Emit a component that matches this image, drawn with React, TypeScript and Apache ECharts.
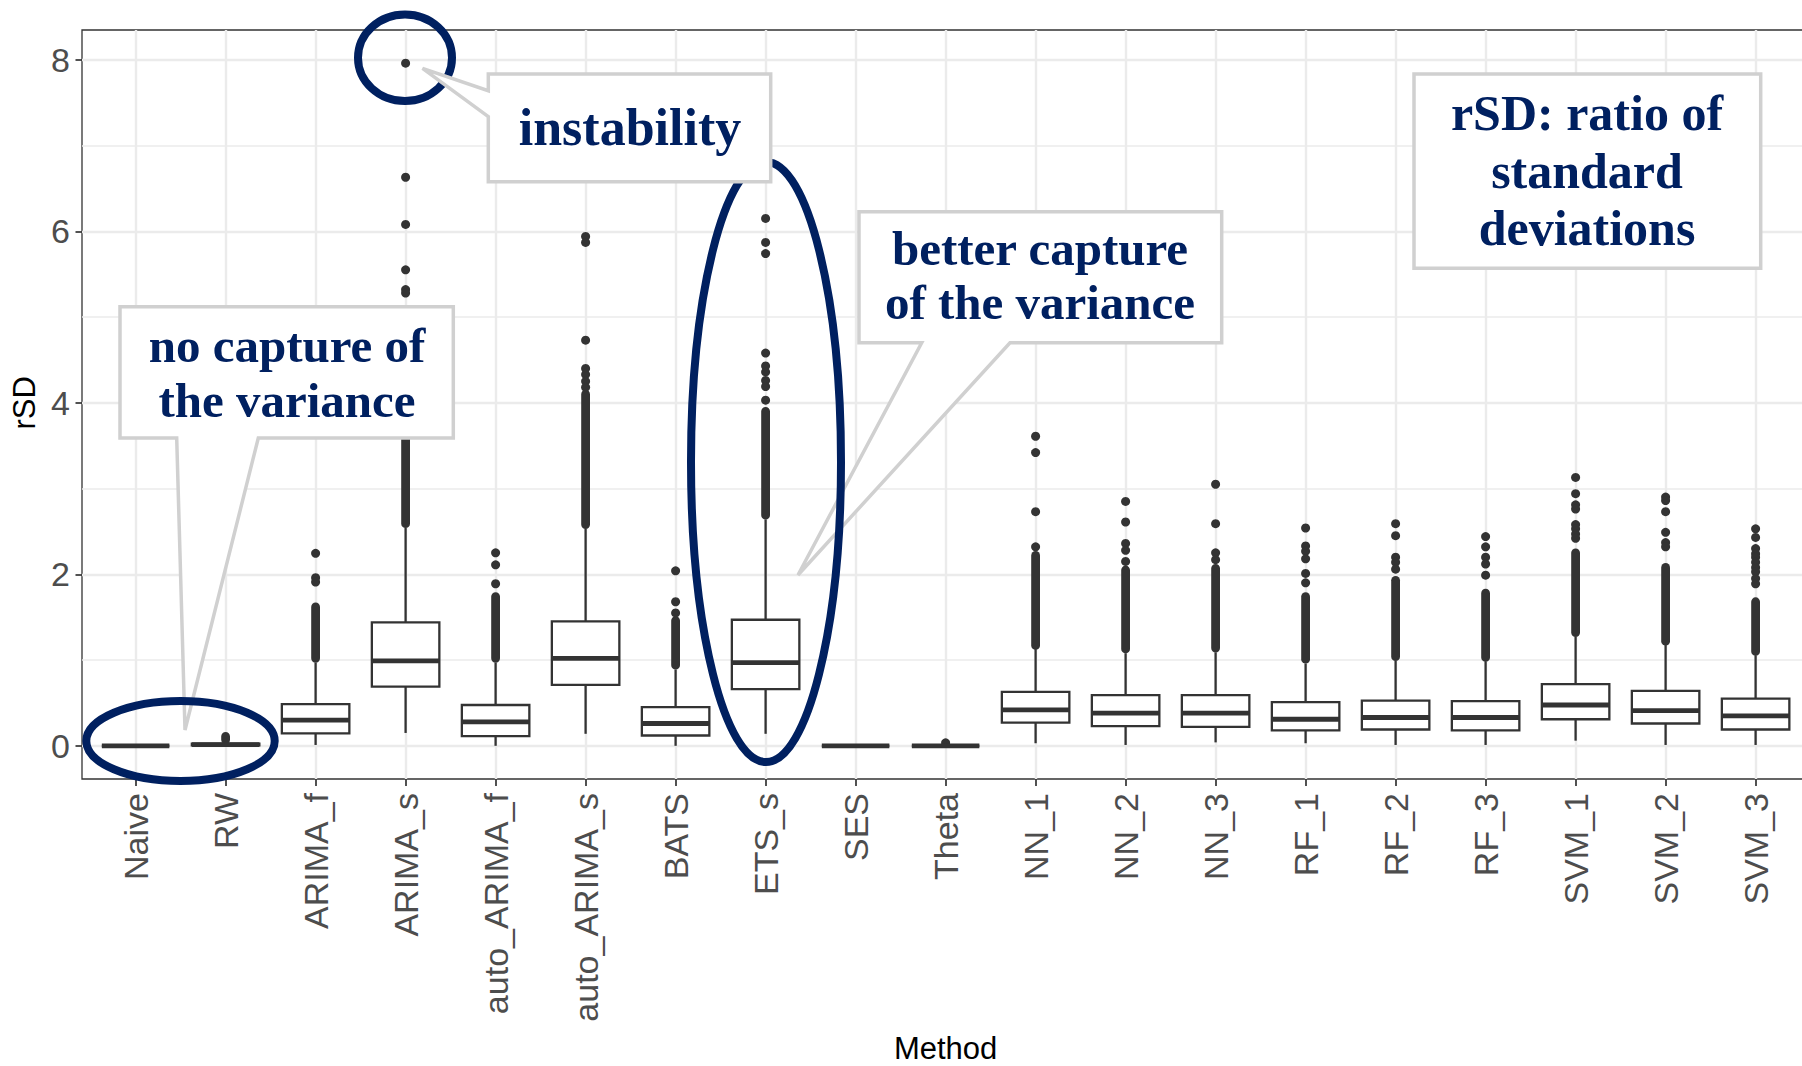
import React, { useEffect, useRef } from 'react';
import * as echarts from 'echarts';

// ---------- data ----------
const methods = ['Naive', 'RW', 'ARIMA_f', 'ARIMA_s', 'auto_ARIMA_f', 'auto_ARIMA_s', 'BATS', 'ETS_s', 'SES', 'Theta',
  'NN_1', 'NN_2', 'NN_3', 'RF_1', 'RF_2', 'RF_3', 'SVM_1', 'SVM_2', 'SVM_3'];

const whiskerLow = [0, 0, 0.01, 0.15, 0.0, 0.14, 0.0, 0.14, 0, 0, 0.03, 0.01, 0.04, 0.03, 0.01, 0.01, 0.06, 0.01, 0.01];
const q1 = [0, 0.005, 0.146, 0.69, 0.114, 0.71, 0.12, 0.66, 0, 0, 0.27, 0.23, 0.22, 0.18, 0.19, 0.18, 0.31, 0.26, 0.19];
const median = [0, 0.015, 0.30, 0.99, 0.28, 1.02, 0.26, 0.97, 0, 0, 0.42, 0.38, 0.38, 0.31, 0.33, 0.33, 0.476, 0.41, 0.35];
const q3 = [0, 0.025, 0.485, 1.44, 0.476, 1.45, 0.45, 1.47, 0, 0, 0.63, 0.59, 0.59, 0.51, 0.526, 0.52, 0.72, 0.64, 0.55];
const whiskerHigh = [0, 0.05, 0.97, 2.54, 0.97, 2.53, 0.89, 2.64, 0, 0, 1.125, 1.08, 1.09, 0.96, 0.99, 0.98, 1.27, 1.175, 1.05];

// isolated outliers per method
const outliers: number[][] = [
  [],
  [],
  [2.245, 1.96, 1.91],
  [7.96, 6.63, 6.08, 5.55, 5.32, 5.28, 4.6, 4.3],
  [2.25, 2.11, 1.89],
  [5.94, 5.87, 4.73, 4.40, 4.33, 4.25, 4.18],
  [2.04, 1.68, 1.55],
  [6.15, 5.87, 5.74, 4.58, 4.43, 4.36, 4.26, 4.19, 4.03],
  [],
  [0.035],
  [3.61, 3.42, 2.73, 2.32],
  [2.85, 2.61, 2.36, 2.28, 2.15],
  [3.05, 2.59, 2.25, 2.17],
  [2.54, 2.33, 2.27, 2.18, 2.01, 1.90],
  [2.59, 2.45, 2.20, 2.14, 2.06],
  [2.44, 2.32, 2.20, 2.12, 1.99],
  [3.13, 2.94, 2.81, 2.76, 2.58, 2.53, 2.47, 2.42],
  [2.90, 2.86, 2.73, 2.49, 2.37, 2.32],
  [2.53, 2.43, 2.30, 2.24, 2.20, 2.14, 2.08, 2.03, 1.95, 1.89],
];

// ranges where outliers are so dense that they overlap into a solid column
const denseLow: (number | null)[] = [null, 0.07, 1.02, 2.59, 1.02, 2.58, 0.94, 2.69, null, null, 1.17, 1.13, 1.14, 1.01, 1.04, 1.03, 1.32, 1.22, 1.10];
const denseHigh: (number | null)[] = [null, 0.11, 1.62, 3.9, 1.74, 4.1, 1.46, 3.9, null, null, 2.22, 2.05, 2.07, 1.74, 1.93, 1.78, 2.25, 2.08, 1.68];

const yTickMin = 0;
const yTickMax = 8;
const yTickStep = 2;

// ---------- styling ----------
const INK = '#333333';
const GRID = '#ebebeb';
const NAVY = '#002060';
const CALLOUT_BORDER = '#d0d0d0';
const SANS = 'Liberation Sans';
const SERIF = 'Liberation Serif';

export default function App() {
  const ref = useRef<HTMLDivElement>(null);

  useEffect(() => {
    document.body.style.margin = '0';
    const chart = echarts.init(ref.current as HTMLDivElement, null, { renderer: 'svg' });

    const boxData = methods.map((_, i) => [i, whiskerLow[i], q1[i], median[i], q3[i], whiskerHigh[i]]);
    const outlierData: number[][] = [];
    outliers.forEach((vals, i) => vals.forEach((v) => outlierData.push([i, v])));
    const denseData: number[][] = [];
    methods.forEach((_, i) => {
      if (denseLow[i] != null && denseHigh[i] != null) denseData.push([i, denseLow[i] as number, denseHigh[i] as number]);
    });

    const calloutStyle = { fill: '#ffffff', stroke: CALLOUT_BORDER, lineWidth: 3.5, lineJoin: 'miter' };
    const txt = (text: string, x: number, y: number, size: number, z: number) => ({
      type: 'text', z, x, y,
      style: {
        text, fill: NAVY, fontSize: size, fontWeight: 'bold', fontFamily: SERIF,
        align: 'center', verticalAlign: 'middle', textAlign: 'center', textVerticalAlign: 'middle',
      },
    });
    const ring = (cx: number, cy: number, rx: number, ry: number) => ({
      type: 'ellipse', z: 102, shape: { cx, cy, rx, ry },
      style: { fill: 'none', stroke: NAVY, lineWidth: 8 },
    });

    const option: any = {
      animation: false,
      backgroundColor: '#ffffff',
      textStyle: { fontFamily: SANS },
      grid: [
        // panel border
        { left: 82, top: 30, width: 1727, height: 749, show: true, borderColor: INK, borderWidth: 1.3, backgroundColor: 'transparent', containLabel: false, outerBoundsMode: 'none' },
        // data area (discrete axis, ggplot 0.6 expansion)
        { left: 135.6, top: 30, width: 1620, height: 749, containLabel: false, outerBoundsMode: 'none' },
        // y labels and horizontal grid (0..8)
        { left: 82, top: 59.8, width: 1727, height: 686, containLabel: false, outerBoundsMode: 'none' },
      ],
      xAxis: [
        { type: 'value', gridIndex: 0, min: -0.6, max: 18.6, show: false },
        {
          type: 'category', gridIndex: 1, data: methods, boundaryGap: false,
          axisLine: { show: false, onZero: false },
          axisTick: { show: true, length: 7, lineStyle: { color: INK, width: 1.7 } },
          axisLabel: { rotate: 90, interval: 0, fontSize: 34, color: '#4d4d4d', fontFamily: SANS, margin: 14 },
          splitLine: { show: true, lineStyle: { color: GRID, width: 2.4 } },
          name: 'Method', nameLocation: 'middle', nameGap: 254,
          nameTextStyle: { fontSize: 31, lineHeight: 31, color: '#000000', fontFamily: SANS },
        },
        { type: 'value', gridIndex: 2, min: -0.6, max: 18.6, show: false },
      ],
      yAxis: [
        { type: 'value', gridIndex: 0, min: -0.387, max: 8.347, show: false },
        { type: 'value', gridIndex: 1, min: -0.387, max: 8.347, show: false },
        {
          type: 'value', gridIndex: 2, min: yTickMin, max: yTickMax, interval: yTickStep,
          axisLine: { show: false, onZero: false },
          axisTick: { show: true, length: 6.5, lineStyle: { color: INK, width: 1.7 } },
          axisLabel: { fontSize: 34, color: '#4d4d4d', fontFamily: SANS, margin: 12 },
          splitLine: { show: true, lineStyle: { color: GRID, width: 2.4 } },
          minorTick: { show: false, splitNumber: 2 },
          minorSplitLine: { show: true, lineStyle: { color: GRID, width: 1.5 } },
          name: 'rSD', nameLocation: 'middle', nameRotate: 90, nameGap: 42,
          nameTextStyle: { fontSize: 31, color: '#000000', fontFamily: SANS },
        },
      ],
      series: [
        {
          type: 'scatter', name: 'outliers', xAxisIndex: 1, yAxisIndex: 1, z: 2,
          data: outlierData, symbol: 'circle', symbolSize: 9,
          itemStyle: { color: INK, opacity: 1 }, silent: true, clip: false,
        },
        {
          type: 'custom', name: 'dense outliers', xAxisIndex: 1, yAxisIndex: 1, z: 2,
          data: denseData, encode: { x: 0, y: [1, 2] }, silent: true,
          renderItem: (params: any, api: any) => {
            const x = api.value(0);
            const top = api.coord([x, api.value(2)]);
            const bot = api.coord([x, api.value(1)]);
            const r = 4.4;
            return {
              type: 'rect',
              shape: { x: top[0] - r, y: top[1] - r, width: 2 * r, height: bot[1] - top[1] + 2 * r, r },
              style: { fill: INK },
            };
          },
        },
        {
          type: 'custom', name: 'boxes', xAxisIndex: 1, yAxisIndex: 1, z: 3,
          data: boxData, encode: { x: 0, y: [1, 2, 3, 4, 5] }, silent: true,
          renderItem: (params: any, api: any) => {
            const x = api.value(0);
            const pLo = api.coord([x, api.value(1)]);
            const pQ1 = api.coord([x, api.value(2)]);
            const pMed = api.coord([x, api.value(3)]);
            const pQ3 = api.coord([x, api.value(4)]);
            const pHi = api.coord([x, api.value(5)]);
            const step = api.coord([1, 0])[0] - api.coord([0, 0])[0];
            const hw = step * 0.375;
            const cx = pMed[0];
            const lw = 2.3;
            return {
              type: 'group',
              children: [
                { type: 'line', shape: { x1: cx, y1: pLo[1], x2: cx, y2: pQ1[1] }, style: { stroke: INK, lineWidth: lw } },
                { type: 'line', shape: { x1: cx, y1: pQ3[1], x2: cx, y2: pHi[1] }, style: { stroke: INK, lineWidth: lw } },
                { type: 'rect', shape: { x: cx - hw, y: pQ3[1], width: 2 * hw, height: pQ1[1] - pQ3[1] }, style: { fill: '#ffffff', stroke: INK, lineWidth: lw } },
                { type: 'line', shape: { x1: cx - hw, y1: pMed[1], x2: cx + hw, y2: pMed[1] }, style: { stroke: INK, lineWidth: 4.8 } },
              ],
            };
          },
        },
      ],
      graphic: {
        elements: [
          // "no capture of the variance" callout
          {
            type: 'polygon', z: 100,
            shape: { points: [[120, 306.7], [453.3, 306.7], [453.3, 438], [258.3, 438], [185, 730], [176.7, 438], [120, 438]] },
            style: calloutStyle,
          },
          txt('no capture of', 287, 345, 49, 101),
          txt('the variance', 287, 400, 49, 101),
          // "better capture of the variance" callout
          {
            type: 'polygon', z: 100,
            shape: { points: [[859, 211.7], [1221.7, 211.7], [1221.7, 342.7], [1010, 342.7], [798, 575], [921.7, 342.7], [859, 342.7]] },
            style: calloutStyle,
          },
          txt('better capture', 1040, 248.3, 49, 101),
          txt('of the variance', 1040, 302.3, 49, 101),
          // rSD definition box
          {
            type: 'rect', z: 100,
            shape: { x: 1414, y: 74, width: 346.7, height: 194.3 },
            style: calloutStyle,
          },
          txt('rSD: ratio of', 1587, 113, 50, 101),
          txt('standard', 1587, 171.3, 50, 101),
          txt('deviations', 1587, 228, 50, 101),
          // navy ellipses
          ring(405, 57.8, 47, 43.3),
          ring(180.5, 741, 94.2, 40),
          ring(766, 462, 75, 300),
          // "instability" callout (on top of the ellipses)
          {
            type: 'polygon', z: 103,
            shape: { points: [[488.3, 74], [770.7, 74], [770.7, 181.7], [488.3, 181.7], [488.3, 116.7], [422.5, 68.3], [488.3, 90.7]] },
            style: calloutStyle,
          },
          txt('instability', 630, 127.3, 52, 104),
        ],
      },
    };

    chart.setOption(option);
    return () => chart.dispose();
  }, []);

  return <div ref={ref} style={{ width: 1802, height: 1066 }} />;
}
